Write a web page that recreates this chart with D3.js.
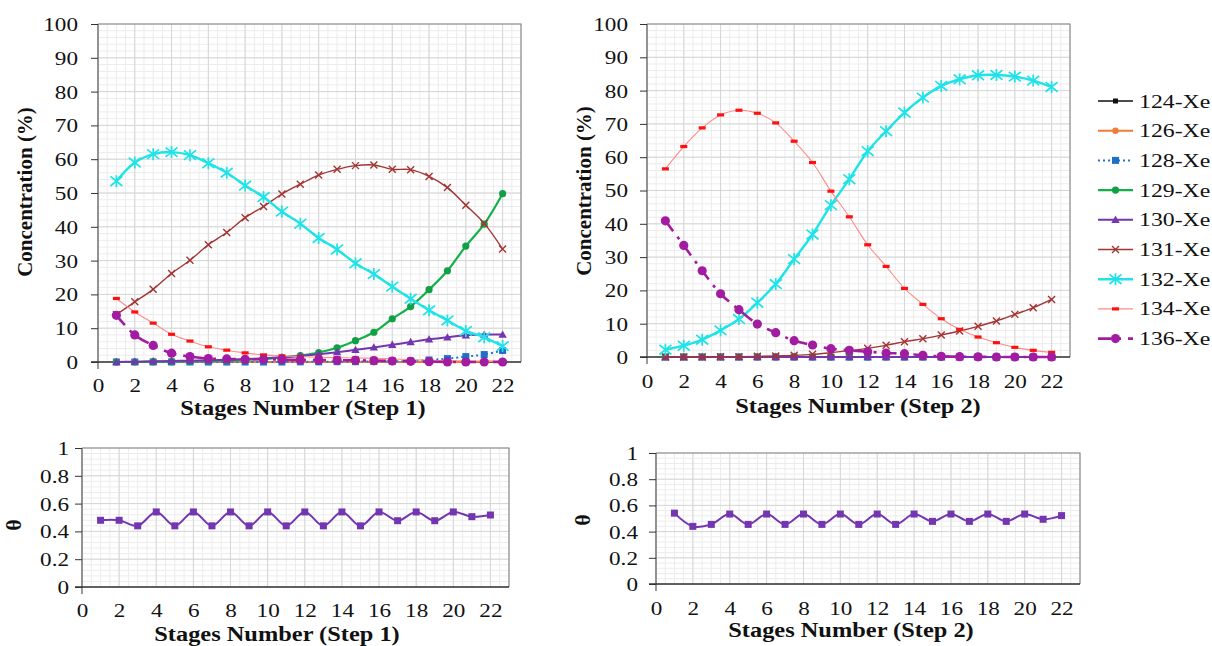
<!DOCTYPE html>
<html><head><meta charset="utf-8">
<script src="https://cdn.jsdelivr.net/npm/d3@7"></script>
<style>
body{margin:0;background:#fff}
svg{display:block}
text{font-family:"Liberation Serif","Times New Roman",serif;fill:#111}
</style>
</head><body>
<svg id="c" width="1212" height="646"></svg>
<script>
// ---------------- DATA ----------------
const stages = d3.range(1, 23);
const isotopes = ["124-Xe","126-Xe","128-Xe","129-Xe","130-Xe","131-Xe","132-Xe","134-Xe","136-Xe"];
const xTicks = d3.range(0, 23, 2);
const concTicks = d3.range(0, 101, 10);
const thetaTicks = [0, 0.2, 0.4, 0.6, 0.8, 1];

// Step 1 concentrations (%)
const s1_124 = [0,0,0,0,0,0,0,0,0,0,0,0,0,0,0,0,0,0,0,0,0,0];
const s1_126 = [0,0,0,0,0,0,0,0,0,0,0,0,0,0,0,0,0,0,0,0.05,0.1,0.15];
const s1_128 = [0,0,0,0,0,0,0,0,0,0,0.05,0.05,0.1,0.1,0.15,0.2,0.3,0.6,1.0,1.6,2.2,3.4];
const s1_129 = [0,0,0.1,0.1,0.2,0.3,0.4,0.6,0.9,1.3,1.9,2.8,4.2,6.3,8.8,12.8,16.4,21.4,27.0,34.3,40.8,49.8];
const s1_130 = [0,0.1,0.2,0.3,0.4,0.5,0.7,0.9,1.1,1.4,1.8,2.3,2.9,3.6,4.3,5.1,5.9,6.7,7.3,7.9,8.1,8.1];
const s1_131 = [14.0,17.8,21.5,26.2,30.1,34.7,38.3,42.7,46.0,49.7,52.6,55.3,57.0,58.1,58.3,57.0,56.9,54.9,51.6,46.4,41.0,33.4];
const s1_132 = [53.5,59.0,61.5,62.1,61.2,58.8,56.0,52.2,48.8,44.5,40.9,36.7,33.3,29.2,26.0,22.3,18.7,15.3,12.3,9.2,7.3,4.7];
const s1_134 = [18.8,14.8,11.5,8.2,6.2,4.5,3.5,2.7,2.1,1.8,1.6,1.4,1.3,1.2,1.1,0.9,0.7,0.5,0.4,0.3,0.2,0.2];
const s1_136 = [13.8,8.0,4.9,2.6,1.6,1.0,0.9,0.8,0.8,0.7,0.6,0.6,0.5,0.5,0.4,0.3,0.2,0.1,0,0,0,0];

// Step 2 concentrations (%)
const s2_124 = [0,0,0,0,0,0,0,0,0,0,0,0,0,0,0,0,0,0,0,0,0,0];
const s2_126 = [0,0,0,0,0,0,0,0,0,0,0,0,0,0,0,0,0,0,0,0,0,0];
const s2_128 = [0,0,0,0,0,0,0,0,0,0,0,0,0,0,0,0,0,0,0,0,0,0];
const s2_129 = [0,0,0,0,0,0,0,0,0,0,0,0,0,0,0,0,0,0,0,0,0,0];
const s2_130 = [0,0,0,0,0,0,0,0,0,0,0,0,0,0,0,0,0,0,0,0,0,0];
const s2_131 = [0,0,0,0.1,0.1,0.2,0.3,0.5,0.8,1.3,1.9,2.6,3.5,4.6,5.5,6.6,7.8,9.2,10.8,12.8,14.8,17.3];
const s2_132 = [2.2,3.4,5.2,8.0,11.4,16.3,21.9,29.4,36.8,45.6,53.4,61.8,67.8,73.4,77.9,81.4,83.4,84.6,84.7,84.2,83.0,81.1];
const s2_134 = [56.5,63.2,68.8,72.7,74.1,73.2,70.3,64.8,58.4,49.8,42.1,33.7,27.2,20.6,15.8,11.5,8.3,6.0,4.3,2.9,2.0,1.4];
const s2_136 = [40.9,33.5,25.9,19.0,14.2,9.9,7.3,4.9,3.6,2.5,2.0,1.6,1.2,1.0,0.5,0.2,0.1,0.05,0,0,0,0];

// Theta
const theta1 = [0.48,0.48,0.44,0.54,0.44,0.54,0.44,0.54,0.44,0.54,0.44,0.54,0.44,0.54,0.44,0.54,0.477,0.54,0.477,0.54,0.506,0.518];
const theta2 = [0.541,0.44,0.455,0.534,0.455,0.534,0.455,0.534,0.455,0.534,0.455,0.534,0.455,0.534,0.478,0.534,0.478,0.534,0.478,0.534,0.494,0.522];

// ---------------- STYLES ----------------
const styles = {
  "124-Xe": {color:"#111111", mcolor:"#111111", width:1.6, dash:null, marker:"square", size:5},
  "126-Xe": {color:"#F47B35", mcolor:"#F47B35", width:2, dash:null, marker:"circle", size:3.2},
  "128-Xe": {color:"#1F78D0", mcolor:"#1F6FC8", width:2, dash:"2,3", marker:"square", size:7},
  "129-Xe": {color:"#12B04A", mcolor:"#12A044", width:2.2, dash:null, marker:"circle", size:3.6},
  "130-Xe": {color:"#7336B0", mcolor:"#7336B0", width:2, dash:null, marker:"triangle", size:7},
  "131-Xe": {color:"#A33434", mcolor:"#A33434", width:1.4, dash:null, marker:"x", size:3.5},
  "132-Xe": {color:"#1EE3E8", mcolor:"#1EE3E8", width:2.4, dash:null, marker:"star", size:6},
  "134-Xe": {color:"#FF8A8A", mcolor:"#FF1010", width:1.1, dash:null, marker:"dash", size:3.5},
  "136-Xe": {color:"#A21CA2", mcolor:"#A21CA2", width:2.6, dash:"13,7,3,7", marker:"circle", size:4.6}
};
const SX = 1.22; // horizontal text stretch of the reference

const svg = d3.select("#c");

function marker(g, type, x, y, color, s) {
  if (type === "square") {
    g.append("rect").attr("x", x - s/2).attr("y", y - s/2).attr("width", s).attr("height", s).attr("fill", color);
  } else if (type === "circle") {
    g.append("circle").attr("cx", x).attr("cy", y).attr("r", s).attr("fill", color);
  } else if (type === "triangle") {
    g.append("path").attr("d", `M${x},${y-s*0.6}L${x+s*0.6},${y+s*0.45}L${x-s*0.6},${y+s*0.45}Z`).attr("fill", color);
  } else if (type === "x") {
    g.append("path").attr("d", `M${x-s},${y-s}L${x+s},${y+s}M${x-s},${y+s}L${x+s},${y-s}`).attr("stroke", color).attr("stroke-width", 1.4);
  } else if (type === "star") {
    g.append("path").attr("d", `M${x-s},${y-s*0.8}L${x+s},${y+s*0.8}M${x-s},${y+s*0.8}L${x+s},${y-s*0.8}M${x},${y-s}L${x},${y+s}`).attr("stroke", color).attr("stroke-width", 1.7);
  } else if (type === "dash") {
    g.append("rect").attr("x", x - s).attr("y", y - 1.6).attr("width", 2*s).attr("height", 3.2).attr("fill", color);
  }
}

function panel(o) {
  const x = d3.scaleLinear().domain([0, 23]).range([o.left, o.right]);
  const y = d3.scaleLinear().domain([0, o.ymax]).range([o.bottom, o.top]);
  const g = svg.append("g");
  // minor grid
  const xm = d3.range(0, 23.001, 0.5), ym = d3.range(0, o.ymax + 1e-9, o.yminor);
  g.append("g").selectAll("line").data(xm).join("line")
    .attr("x1", d => x(d)).attr("x2", d => x(d)).attr("y1", o.top).attr("y2", o.bottom)
    .attr("stroke", "#ececec").attr("stroke-width", 1);
  g.append("g").selectAll("line").data(ym).join("line")
    .attr("x1", o.left).attr("x2", o.right).attr("y1", d => y(d)).attr("y2", d => y(d))
    .attr("stroke", "#ececec").attr("stroke-width", 1);
  // major grid
  g.append("g").selectAll("line").data(xTicks).join("line")
    .attr("x1", d => x(d)).attr("x2", d => x(d)).attr("y1", o.top).attr("y2", o.bottom)
    .attr("stroke", "#d6d6d6").attr("stroke-width", 1);
  g.append("g").selectAll("line").data(o.yticks).join("line")
    .attr("x1", o.left).attr("x2", o.right).attr("y1", d => y(d)).attr("y2", d => y(d))
    .attr("stroke", "#d6d6d6").attr("stroke-width", 1);
  // border
  g.append("path").attr("d", `M${o.left},${o.top}H${o.right}V${o.bottom}`).attr("fill", "none").attr("stroke", "#8a8a8a").attr("stroke-width", 1.2);

  // y axis
  const ya = g.append("g").attr("transform", `translate(${o.left},0)`)
    .call(d3.axisLeft(y).tickValues(o.yticks).tickSize(7).tickSizeOuter(0).tickFormat(o.yfmt));
  ya.select(".domain").attr("stroke", "#666").attr("stroke-width", 1.3).attr("d", `M0,${o.top}V${o.bottom + 7}`);
  ya.selectAll(".tick line").attr("stroke", "#333");
  ya.selectAll("text").attr("x", -o.ylabOff / SX).attr("dy", "0.34em").attr("transform", `scale(${SX},1)`)
    .attr("font-size", 19).attr("fill", "#111");
  // x axis (labels only, no tick marks)
  const xa = g.append("g").attr("transform", `translate(0,${o.bottom})`)
    .call(d3.axisBottom(x).tickValues(xTicks).tickSize(0).tickSizeOuter(0));
  xa.select(".domain").attr("stroke", "#333").attr("stroke-width", 1.4).attr("d", `M${o.left - 7},0H${o.right}`);
  xa.selectAll("text").attr("y", o.xlabOff).attr("dy", 0).attr("transform", `scale(${SX},1)`)
    .attr("font-size", 19).attr("fill", "#111");

  // titles
  g.append("text").attr("transform", `translate(${o.xtX},${o.xtY}) scale(${SX},1)`)
    .attr("text-anchor", "middle").attr("font-weight", "bold").attr("font-size", 20).text(o.xtitle);
  g.append("text").attr("transform", `translate(${o.ytX},${o.ytY}) rotate(-90)`)
    .attr("text-anchor", "middle").attr("font-weight", "bold").attr("font-size", o.ytSize).text(o.ytitle);

  return {g, x, y};
}

function drawSeries(p, name, vals, curve) {
  const st = styles[name];
  const line = d3.line().x((d, i) => p.x(stages[i])).y(d => p.y(d)).curve(curve);
  const gg = p.g.append("g");
  gg.append("path").datum(vals).attr("d", line).attr("fill", "none")
    .attr("stroke", st.color).attr("stroke-width", st.width)
    .attr("stroke-dasharray", st.dash).attr("stroke-linejoin", "round");
  vals.forEach((v, i) => marker(gg, st.marker, p.x(stages[i]), p.y(v), st.mcolor, st.size));
}

const smooth = d3.curveCatmullRom.alpha(0.5);

// ---- Top left: Step 1 concentrations
const p1 = panel({left:98, right:521, top:24, bottom:362, ymax:100, yminor:2, yticks:concTicks, yfmt:d3.format("d"),
  ylabOff:20, xlabOff:30, xtitle:"Stages Number (Step 1)", xtX:303, xtY:415,
  ytitle:"Concentration (%)", ytX:32, ytY:192, ytSize:21});
const step1 = [s1_124, s1_126, s1_128, s1_129, s1_130, s1_131, s1_132, s1_134, s1_136];
isotopes.forEach((n, i) => drawSeries(p1, n, step1[i], smooth));

// ---- Top right: Step 2 concentrations
const p2 = panel({left:647, right:1070, top:24, bottom:357, ymax:100, yminor:2, yticks:concTicks, yfmt:d3.format("d"),
  ylabOff:19, xlabOff:31, xtitle:"Stages Number (Step 2)", xtX:858, xtY:413,
  ytitle:"Concentration (%)", ytX:591, ytY:191, ytSize:21});
const step2 = [s2_124, s2_126, s2_128, s2_129, s2_130, s2_131, s2_132, s2_134, s2_136];
isotopes.forEach((n, i) => drawSeries(p2, n, step2[i], smooth));

// ---- Legend
const lg = svg.append("g");
isotopes.forEach((n, i) => {
  const st = styles[n];
  const yy = 101 + i * 29.7;
  lg.append("line").attr("x1", 1098).attr("x2", 1133).attr("y1", yy).attr("y2", yy)
    .attr("stroke", st.color).attr("stroke-width", st.width).attr("stroke-dasharray", st.dash);
  marker(lg, st.marker, 1115.5, yy, st.mcolor, st.size);
  lg.append("text").attr("transform", `translate(1139,${yy + 6.5}) scale(${SX},1)`)
    .attr("font-size", 19.5).text(n);
});

// ---- Bottom: theta
const thetaStyle = {color:"#7336B0"};
function drawTheta(p, vals) {
  const line = d3.line().x((d, i) => p.x(stages[i])).y(d => p.y(d)).curve(d3.curveCatmullRom.alpha(0.5));
  p.g.append("path").datum(vals).attr("d", line).attr("fill", "none").attr("stroke", thetaStyle.color).attr("stroke-width", 2);
  vals.forEach((v, i) => marker(p.g, "square", p.x(stages[i]), p.y(v), thetaStyle.color, 7));
}
const thetaFmt = d => d === 0 || d === 1 ? d3.format("d")(d) : d3.format(".1f")(d);
const p3 = panel({left:82, right:509, top:448, bottom:587, ymax:1, yminor:0.04, yticks:thetaTicks, yfmt:thetaFmt,
  ylabOff:13, xlabOff:30, xtitle:"Stages Number (Step 1)", xtX:277, xtY:641,
  ytitle:"θ", ytX:21, ytY:525, ytSize:22});
drawTheta(p3, theta1);
const p4 = panel({left:656, right:1080, top:453, bottom:584, ymax:1, yminor:0.04, yticks:thetaTicks, yfmt:thetaFmt,
  ylabOff:18, xlabOff:31, xtitle:"Stages Number (Step 2)", xtX:851, xtY:637,
  ytitle:"θ", ytX:590, ytY:520, ytSize:22});
drawTheta(p4, theta2);
</script>
</body></html>
